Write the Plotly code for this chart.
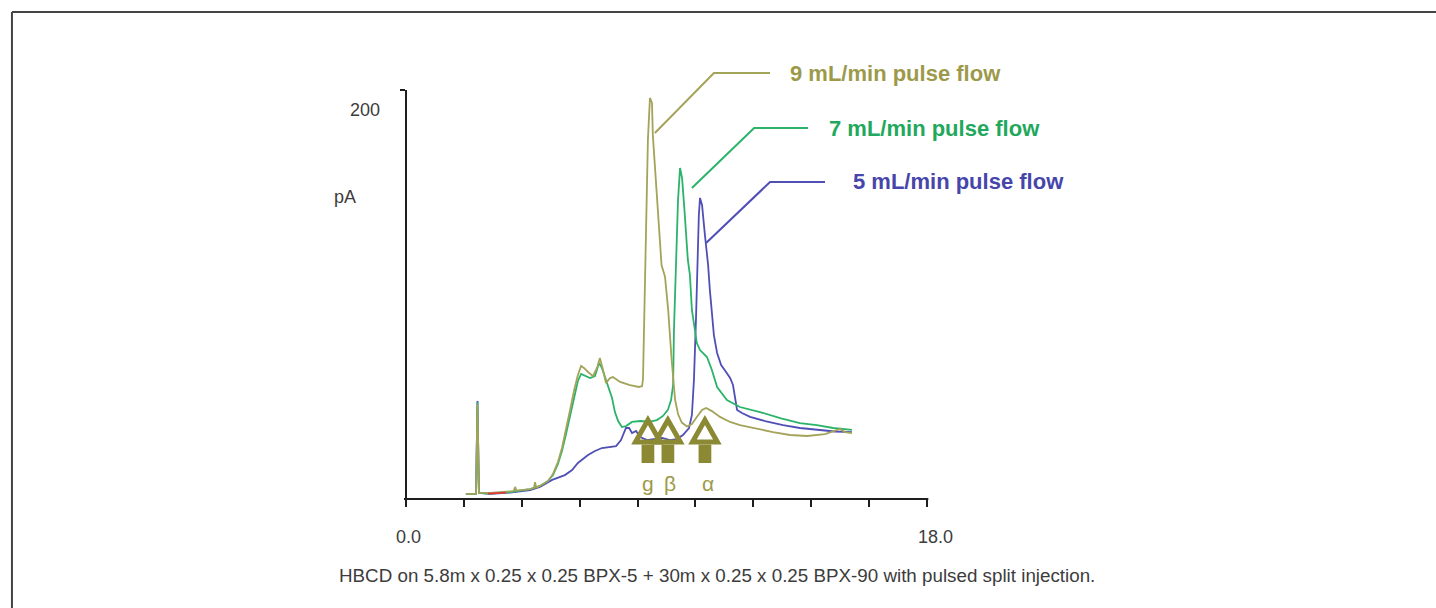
import plotly.graph_objects as go

# ---------------- data (retention time in min, signal in pA) ----------------
t_9 = [2.07, 2.42, 2.47, 2.52, 2.90, 3.25, 3.72, 3.77, 3.82, 4.29, 4.42, 4.46, 4.50, 4.63, 4.91,
       5.08, 5.25, 5.39, 5.53, 5.67, 5.81, 5.94, 6.05, 6.15, 6.29, 6.46, 6.60, 6.70, 6.81, 6.91,
       7.05, 7.15, 7.40, 7.74, 8.05, 8.16, 8.19, 8.26, 8.36, 8.43, 8.50, 8.53, 8.72, 8.83, 8.95,
       9.06, 9.18, 9.30, 9.40, 9.53, 9.71, 9.88, 10.05, 10.23, 10.37, 10.57, 10.85, 11.20, 11.54,
       12.13, 12.68, 13.27, 13.86, 14.48, 14.82, 15.00, 15.17, 15.41]
pa_9 = [2.6, 2.6, 48.8, 3.1, 3.1, 3.6, 4.1, 6.2, 4.3, 5.1, 5.6, 8.7, 5.9, 6.7, 9.3,
        12.9, 19.0, 26.2, 35.5, 45.8, 56.0, 63.8, 68.4, 67.4, 65.3, 63.2, 67.4, 72.5, 66.3, 59.6,
        62.2, 62.7, 60.2, 58.6, 57.6, 58.1, 62.0, 120.3, 185.0, 206.2, 203.6, 187.1, 144.3, 120.3, 114.3,
        97.2, 71.5, 50.9, 43.7, 39.3, 37.3, 38.6, 42.2, 45.8, 46.8, 45.2, 42.2, 39.6, 38.0,
        36.0, 34.4, 32.9, 32.4, 33.4, 35.0, 36.0, 34.4, 33.9]

t_7 = [2.07, 2.42, 2.47, 2.52, 2.90, 3.59, 4.29, 4.63, 4.91, 5.08, 5.25, 5.39, 5.53, 5.67, 5.81,
       5.94, 6.05, 6.19, 6.36, 6.53, 6.67, 6.77, 6.88, 6.98, 7.12, 7.22, 7.33, 7.46, 7.60, 7.81,
       8.09, 8.43, 8.67, 8.88, 9.05, 9.16, 9.23, 9.26, 9.33, 9.40, 9.47, 9.54, 9.61, 9.64, 9.74,
       9.81, 9.88, 10.05, 10.16, 10.40, 10.57, 10.75, 11.09, 11.54, 12.23, 12.96, 13.61, 14.20,
       14.76, 15.41]
pa_7 = [2.6, 2.6, 49.8, 3.1, 2.8, 3.6, 5.1, 6.7, 9.3, 12.3, 18.0, 24.7, 33.4, 43.2, 53.0,
        60.7, 64.3, 63.2, 62.2, 63.2, 69.9, 67.4, 62.7, 58.6, 51.9, 44.7, 40.1, 37.0, 37.5, 39.6,
        40.1, 39.8, 40.6, 42.7, 45.8, 50.9, 58.6, 86.9, 125.4, 153.7, 170.2, 165.0, 151.2, 144.5, 122.9,
        115.2, 97.2, 80.2, 76.6, 73.0, 66.3, 57.6, 50.9, 47.3, 44.7, 41.5, 39.0, 38.0,
        36.5, 35.5]

t_5 = [2.07, 2.42, 2.47, 2.52, 2.90, 3.59, 4.29, 4.63, 5.05, 5.49, 5.74, 5.94, 6.29, 6.53, 6.77,
       7.05, 7.26, 7.43, 7.53, 7.60, 7.71, 7.81, 7.95, 8.09, 8.33, 8.60, 8.85, 9.12, 9.36, 9.57,
       9.78, 9.88, 9.95, 10.02, 10.06, 10.12, 10.16, 10.23, 10.33, 10.44, 10.50, 10.57, 10.64,
       10.75, 10.89, 11.06, 11.20, 11.30, 11.37, 11.44, 11.61, 11.89, 12.41, 13.03, 13.61, 14.20,
       14.82, 15.41]
pa_5 = [2.6, 2.6, 50.4, 3.1, 2.6, 3.3, 4.6, 6.2, 9.8, 12.3, 14.9, 18.5, 22.6, 24.7, 26.2,
        26.7, 27.2, 30.3, 34.4, 36.5, 36.5, 33.9, 35.0, 31.9, 30.3, 30.8, 31.4, 30.3, 30.8, 32.9,
        36.5, 43.2, 61.2, 92.0, 120.3, 146.0, 154.8, 151.2, 135.7, 120.3, 107.5, 97.2, 84.3,
        75.1, 68.9, 65.3, 62.2, 58.6, 50.9, 45.8, 44.2, 42.2, 40.1, 38.0, 36.5, 35.5,
        34.7, 34.4]

t_red = [2.83, 3.10, 3.45]
pa_red = [2.8, 3.0, 3.3]

series_names = ["9 mL/min pulse flow", "7 mL/min pulse flow", "5 mL/min pulse flow"]
x_tick_vals = [0, 2, 4, 6, 8, 10, 12, 14, 16, 18]
x_end_labels = ["0.0", "18.0"]
y_label_val = 200
isomer_labels = ["g", "β", "α"]
isomer_rt = [8.36, 9.05, 10.33]

caption = "HBCD on 5.8m x 0.25 x 0.25 BPX-5 + 30m x 0.25 x 0.25 BPX-90 with pulsed split injection."

# ---------------- style ----------------
FONT = "Liberation Sans, Arial, Helvetica, sans-serif"
OLIVE = "#a4a35a"
OLIVE_TXT = "#9c9a4a"
ARROW = "#8b8933"
GREEN = "#2bb36a"
GREEN_TXT = "#22a85c"
BLUE = "#4f4fb6"
BLUE_TXT = "#4646aa"
RED = "#e03a3a"
AXIS = "#1e1e1e"
TXT = "#3c3c3c"

X_MAX = 35.04
Y_MAX = 250.4
Y_TOP = 210.3


def px(t):
    return t / X_MAX


def py(v):
    return v / Y_MAX


fig = go.Figure()
for tt, yy, col in [(t_5, pa_5, BLUE), (t_7, pa_7, GREEN), (t_9, pa_9, OLIVE)]:
    fig.add_trace(go.Scatter(x=tt, y=yy, mode="lines", line=dict(color=col, width=1.8),
                             hoverinfo="skip", showlegend=False))
fig.add_trace(go.Scatter(x=t_red, y=pa_red, mode="lines", line=dict(color=RED, width=1.8),
                         hoverinfo="skip", showlegend=False))

shapes = []
# axes lines
shapes.append(dict(type="line", xref="paper", yref="paper", x0=px(-0.07), x1=px(18.05), y0=0, y1=0,
                   line=dict(color=AXIS, width=2)))
shapes.append(dict(type="line", xref="paper", yref="paper", x0=0, x1=0, y0=0, y1=py(Y_TOP),
                   line=dict(color=AXIS, width=2)))
# frame border (top and left)
shapes.append(dict(type="line", xref="paper", yref="paper", x0=-0.3886, x1=1.02, y0=1, y1=1,
                   line=dict(color="#444444", width=2)))
shapes.append(dict(type="line", xref="paper", yref="paper", x0=-0.3886, x1=-0.3886, y0=1, y1=-0.25,
                   line=dict(color="#444444", width=2)))

# leader lines to series labels: (peak point, elbow, end)
leaders = [
    ([(8.60, 188.2), (10.64, 219.0), (12.58, 219.0)], OLIVE),
    ([(9.88, 159.9), (12.03, 190.7), (13.89, 190.7)], GREEN),
    ([(10.37, 131.6), (12.58, 163.0), (14.48, 163.0)], BLUE),
]
for pts, col in leaders:
    path = "M {} {} L {} {} L {} {}".format(px(pts[0][0]), py(pts[0][1]), px(pts[1][0]), py(pts[1][1]),
                                            px(pts[2][0]), py(pts[2][1]))
    shapes.append(dict(type="path", xref="paper", yref="paper", path=path,
                       line=dict(color=col, width=2)))

# isomer arrows
for rt in isomer_rt:
    head = "M {} {} L {} {} L {} {} Z".format(rt, 40.6, rt - 0.43, 29.3, rt + 0.43, 29.3)
    shapes.append(dict(type="path", xref="x", yref="y", path=head,
                       line=dict(color=ARROW, width=5), fillcolor="rgba(0,0,0,0)"))
    shapes.append(dict(type="rect", xref="x", yref="y", x0=rt - 0.22, x1=rt + 0.22, y0=18.5, y1=28.0,
                       line=dict(width=0), fillcolor=ARROW))

annotations = []
label_pos = [(13.20, 219.0, OLIVE_TXT), (14.55, 190.7, GREEN_TXT), (15.38, 163.0, BLUE_TXT)]
for name, (lx, ly, col) in zip(series_names, label_pos):
    annotations.append(dict(x=lx, y=ly, xref="x", yref="y", text="<b>" + name + "</b>",
                            showarrow=False, xanchor="left", yanchor="middle",
                            font=dict(family=FONT, size=22, color=col)))

for lab, rt, sh in zip(isomer_labels, isomer_rt, [0, 2, 3]):
    annotations.append(dict(x=rt, y=8.2, xref="x", yref="y", text=lab, showarrow=False,
                            xanchor="center", yanchor="middle", xshift=sh,
                            font=dict(family=FONT, size=21, color=OLIVE_TXT)))

# axis end labels (0.0 under the origin, 18.0 slightly right of the last tick)
for lab, xp in zip(x_end_labels, [px(x_tick_vals[0]) + 0.002, px(x_tick_vals[-1]) + 0.008]):
    annotations.append(dict(x=xp, y=-0.078, xref="paper", yref="paper", text=lab,
                            showarrow=False, xanchor="center", yanchor="middle",
                            font=dict(family=FONT, size=18, color=TXT)))

annotations.append(dict(x=-0.0404, y=py(y_label_val), xref="paper", yref="paper", text=str(y_label_val),
                        showarrow=False, xanchor="center", yanchor="middle",
                        font=dict(family=FONT, size=18, color=TXT)))
annotations.append(dict(x=-0.0597, y=0.6201, xref="paper", yref="paper", text="pA",
                        showarrow=False, xanchor="center", yanchor="middle",
                        font=dict(family=FONT, size=18, color=TXT)))
annotations.append(dict(x=0.307, y=-0.158, xref="paper", yref="paper", text=caption,
                        showarrow=False, xanchor="center", yanchor="middle",
                        font=dict(family=FONT, size=18.8, color=TXT)))

fig.update_layout(
    width=1436, height=608,
    margin=dict(l=406, r=16, t=12, b=109),
    paper_bgcolor="white", plot_bgcolor="white",
    showlegend=False,
    shapes=shapes, annotations=annotations,
    xaxis=dict(range=[0, X_MAX], tickvals=x_tick_vals, ticktext=[""] * len(x_tick_vals),
               ticks="outside", ticklen=7, tickwidth=1.5, tickcolor=AXIS,
               showgrid=False, zeroline=False, showline=False),
    yaxis=dict(range=[0, Y_MAX], tickvals=[Y_TOP], ticktext=[""],
               ticks="outside", ticklen=5, tickwidth=1.5, tickcolor=AXIS,
               showgrid=False, zeroline=False, showline=False, showticklabels=False),
)

fig.write_html("out.html", config={"displayModeBar": False},
               post_script="document.body.style.margin='0px';")
